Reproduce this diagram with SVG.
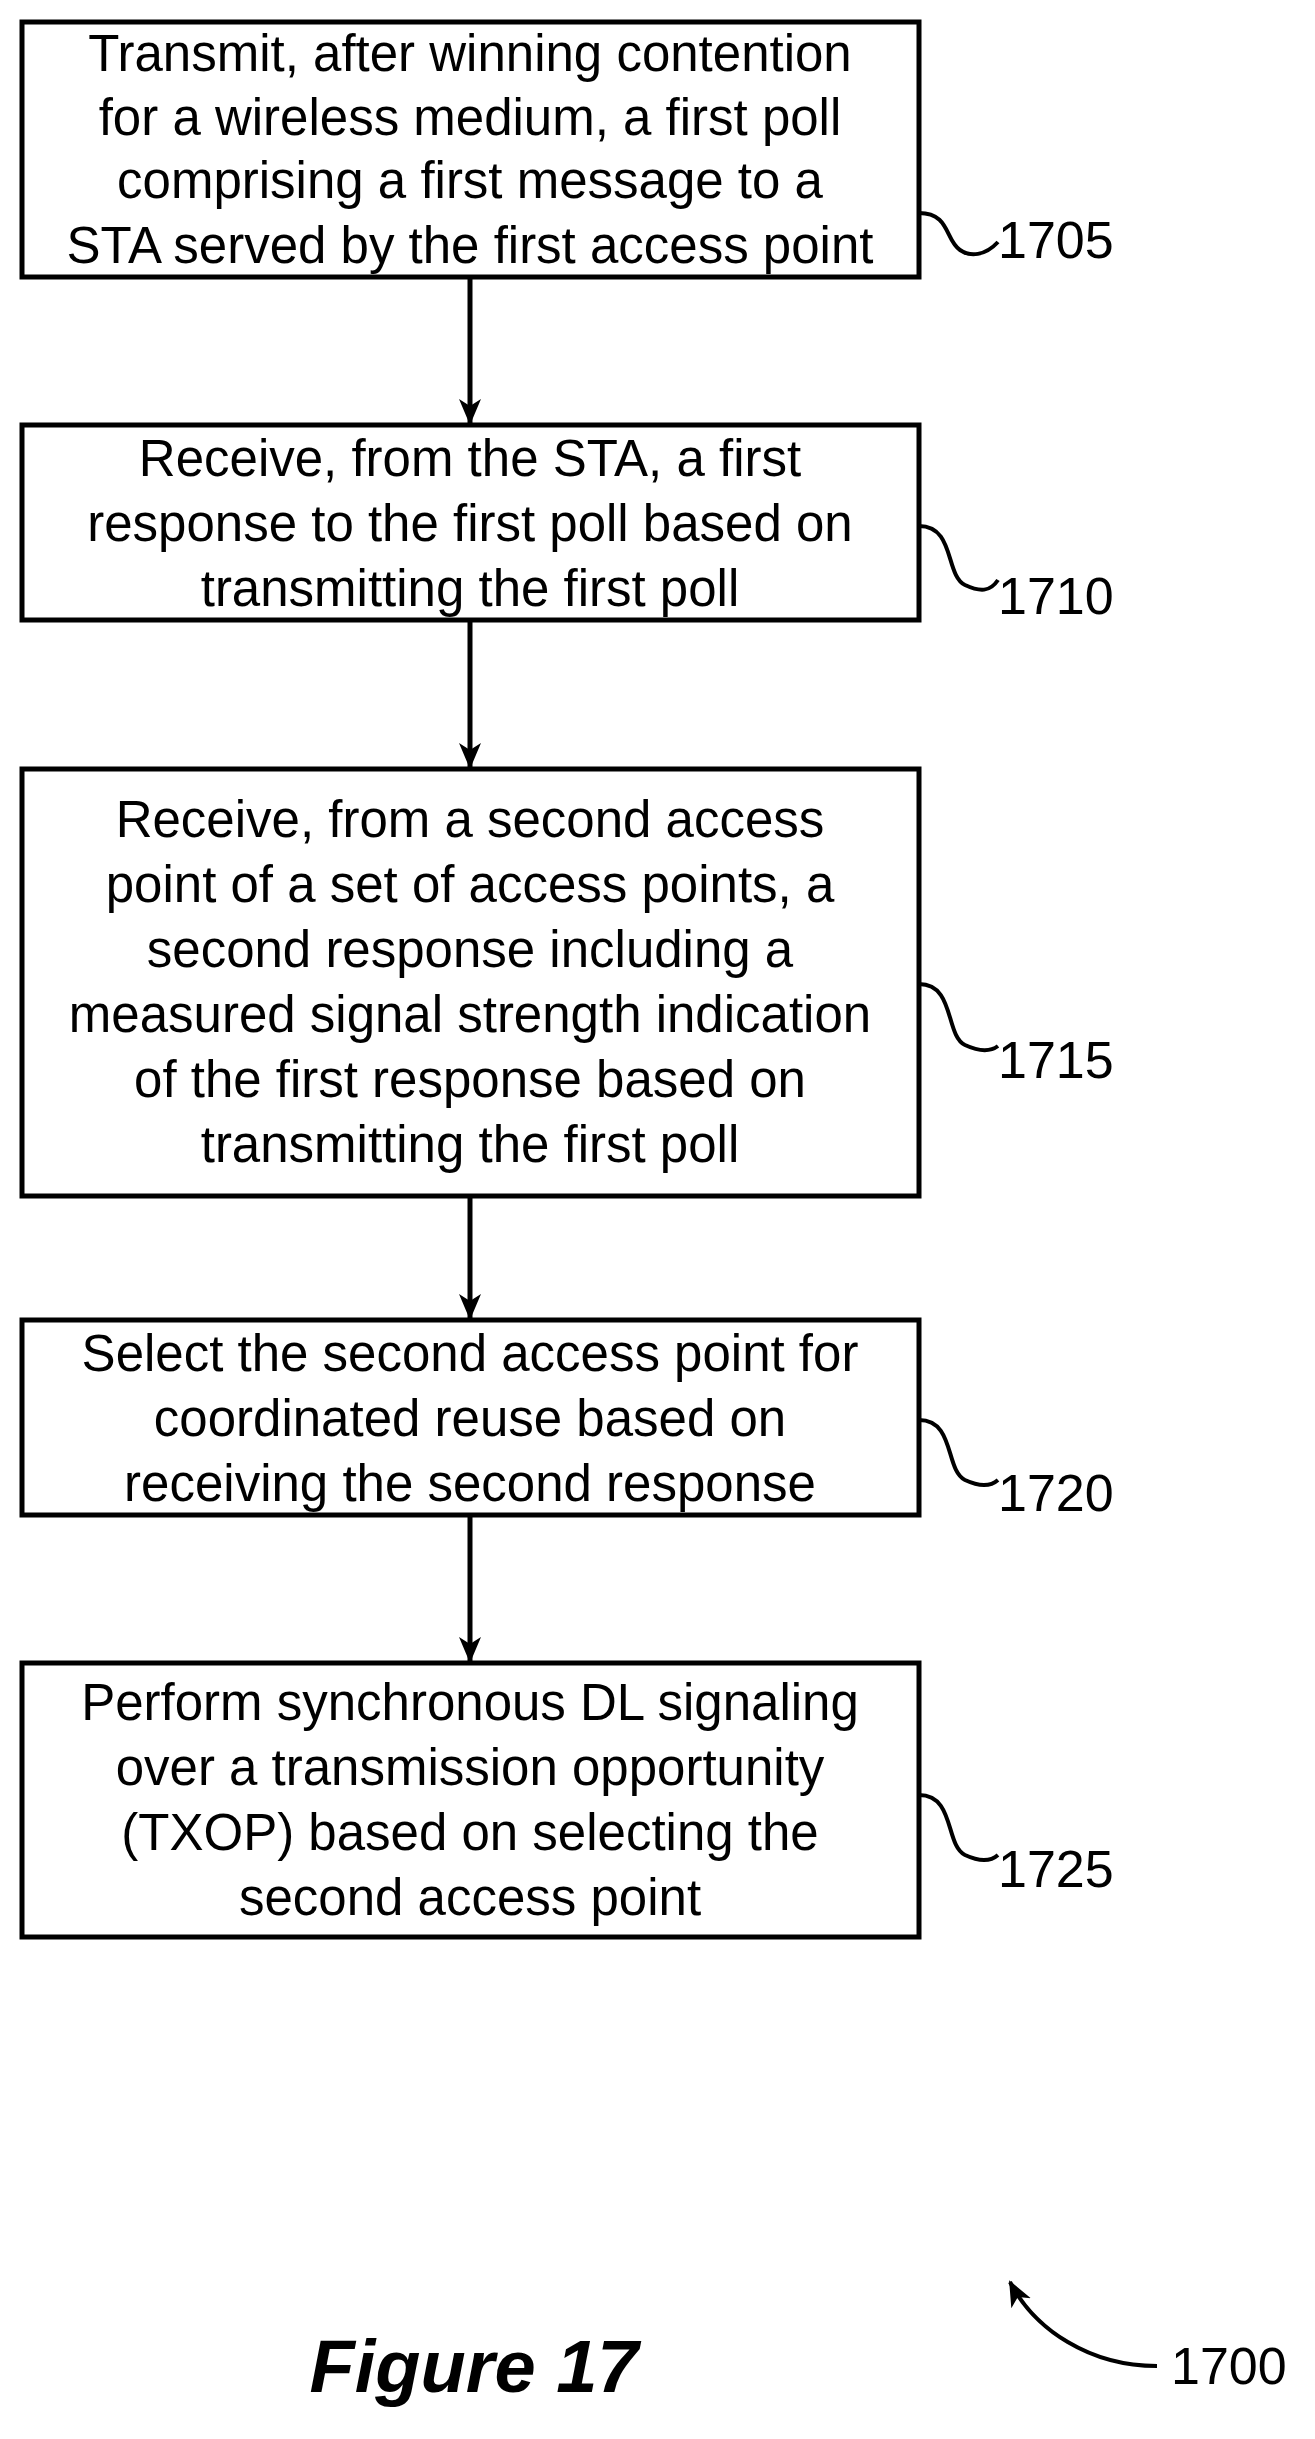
<svg xmlns="http://www.w3.org/2000/svg" width="1315" height="2439" viewBox="0 0 1315 2439">
<style>
.b{fill:#fff;stroke:#000;stroke-width:5}
.t{font-family:"Liberation Sans",Arial,sans-serif;font-size:51px;text-anchor:middle;fill:#000}
.l{font-family:"Liberation Sans",Arial,sans-serif;font-size:52px;fill:#000}
.c{fill:none;stroke:#000;stroke-width:5}
.s{fill:none;stroke:#000;stroke-width:4}
</style>
<defs>
<marker id="ah" markerWidth="26" markerHeight="26" refX="24" refY="13" orient="auto" markerUnits="userSpaceOnUse"><path d="M0,2 L26,13 L0,24 L7,13 Z" fill="#000"/></marker></defs>
<g id="n1705"><rect class="b" x="22" y="22" width="897" height="255"/>
<text class="t" x="470" y="71">Transmit, after winning contention</text>
<text class="t" x="470" y="135">for a wireless medium, a first poll</text>
<text class="t" x="470" y="198">comprising a first message to a</text>
<text class="t" x="470" y="263">STA served by the first access point</text>
<path class="s" d="M919,213 C950,213 945,240 960,250 C970,257 985,256 998,242"/><text class="l" x="998" y="258">1705</text></g>
<g id="n1710"><rect class="b" x="22" y="425" width="897" height="195"/>
<text class="t" x="470" y="476">Receive, from the STA, a first</text>
<text class="t" x="470" y="541">response to the first poll based on</text>
<text class="t" x="470" y="606">transmitting the first poll</text>
<path class="s" d="M919,526 C955,526 945,575 965,585 C980,592 990,592 998,580"/><text class="l" x="998" y="614">1710</text></g>
<g id="n1715"><rect class="b" x="22" y="769" width="897" height="427"/>
<text class="t" x="470" y="837">Receive, from a second access</text>
<text class="t" x="470" y="902">point of a set of access points, a</text>
<text class="t" x="470" y="967">second response including a</text>
<text class="t" x="470" y="1032">measured signal strength indication</text>
<text class="t" x="470" y="1097">of the first response based on</text>
<text class="t" x="470" y="1162">transmitting the first poll</text>
<path class="s" d="M919,984 C955,984 945,1035 965,1045 C980,1052 990,1052 998,1046"/><text class="l" x="998" y="1078">1715</text></g>
<g id="n1720"><rect class="b" x="22" y="1320" width="897" height="195"/>
<text class="t" x="470" y="1371">Select the second access point for</text>
<text class="t" x="470" y="1436">coordinated reuse based on</text>
<text class="t" x="470" y="1501">receiving the second response</text>
<path class="s" d="M919,1420 C955,1420 945,1470 965,1480 C980,1487 990,1487 998,1480"/><text class="l" x="998" y="1511">1720</text></g>
<g id="n1725"><rect class="b" x="22" y="1663" width="897" height="274"/>
<text class="t" x="470" y="1720">Perform synchronous DL signaling</text>
<text class="t" x="470" y="1785">over a transmission opportunity</text>
<text class="t" x="470" y="1850">(TXOP) based on selecting the</text>
<text class="t" x="470" y="1915">second access point</text>
<path class="s" d="M919,1795 C955,1795 945,1845 965,1855 C980,1862 990,1862 998,1855"/><text class="l" x="998" y="1887">1725</text></g>
<g id="connectors">
<line class="c" x1="470" y1="277" x2="470" y2="423" marker-end="url(#ah)"/>
<line class="c" x1="470" y1="620" x2="470" y2="767" marker-end="url(#ah)"/>
<line class="c" x1="470" y1="1196" x2="470" y2="1318" marker-end="url(#ah)"/>
<line class="c" x1="470" y1="1515" x2="470" y2="1661" marker-end="url(#ah)"/>
</g>
<g id="ref1700"><path class="s" d="M1157,2366 C1090,2366 1035,2330 1010,2282" marker-end="url(#ah)"/><text class="l" x="1171" y="2384">1700</text></g>
<text x="474" y="2392" font-family="Liberation Sans,Arial,sans-serif" font-size="74" font-weight="bold" font-style="italic" text-anchor="middle">Figure 17</text>
</svg>
